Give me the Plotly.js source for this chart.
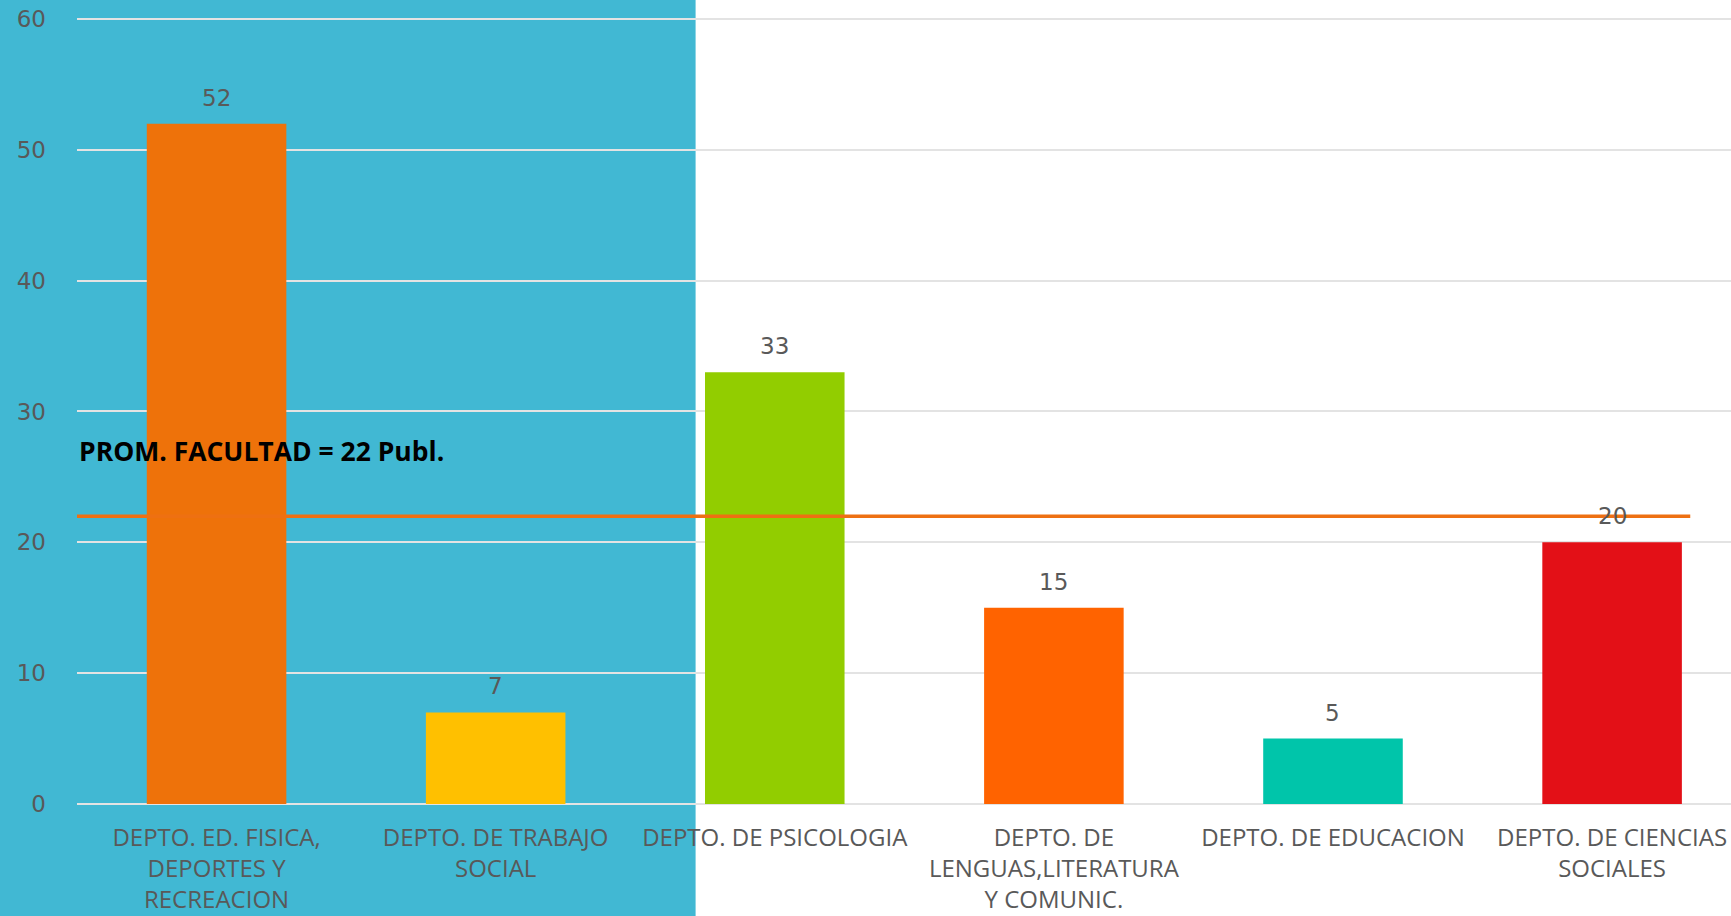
<!DOCTYPE html>
<html>
<head>
<meta charset="utf-8">
<script src="https://cdn.plot.ly/plotly-3.0.1.min.js"></script>
<style>
html,body{margin:0;padding:0;overflow:hidden;background:#fff;}
#chart{width:1731px;height:916px;}
</style>
</head>
<body>
<div id="chart"></div>
<script>
const categories = [
  "DEPTO. ED. FISICA,<br>DEPORTES Y<br>RECREACION",
  "DEPTO. DE TRABAJO<br>SOCIAL",
  "DEPTO. DE PSICOLOGIA",
  "DEPTO. DE<br>LENGUAS,LITERATURA<br>Y COMUNIC.",
  "DEPTO. DE EDUCACION",
  "DEPTO. DE CIENCIAS<br>SOCIALES"
];
const publications = [52, 7, 33, 15, 5, 20];
const barColors = ["#EE720A", "#FFC000", "#92CD00", "#FF6300", "#00C5AA", "#E31017"];
const facultyAverage = 22;
const yTicks = [0, 10, 20, 30, 40, 50, 60];

const labelFont = "DejaVu Sans, sans-serif";
const gray = "#595959";

const trace = {
  type: "bar",
  x: categories,
  y: publications,
  marker: {color: barColors},
  hoverinfo: "x+y"
};

const valueAnnotations = categories.map((c, i) => ({
  x: c, y: publications[i], xref: "x", yref: "y",
  text: String(publications[i]), showarrow: false,
  yanchor: "bottom", yshift: 11,
  font: {family: labelFont, size: 23, color: gray}
}));

const layout = {
  width: 1731, height: 916,
  margin: {l: 77, r: 0, t: 17, b: 112},
  paper_bgcolor: "#ffffff",
  plot_bgcolor: "rgba(0,0,0,0)",
  bargap: 0.5,
  showlegend: false,
  xaxis: {
    type: "category",
    range: [-0.5, 5.426],
    tickfont: {family: "Open Sans, sans-serif", size: 24, color: gray},
    showgrid: false,
    ticks: "",
    showline: false,
    zeroline: false,
    ticklabelstandoff: 17,
    fixedrange: true
  },
  yaxis: {
    range: [0, 60.15],
    tickvals: yTicks,
    tickfont: {family: labelFont, size: 23, color: gray},
    gridcolor: "#E3E3E3",
    gridwidth: 2,
    zeroline: true,
    zerolinecolor: "#E3E3E3",
    zerolinewidth: 2,
    ticks: "",
    ticklabelstandoff: 30,
    fixedrange: true
  },
  shapes: [
    {type: "rect", xref: "paper", yref: "paper",
     x0: -0.05, x1: 0.374, y0: -0.15, y1: 1.03,
     fillcolor: "#41B8D3", line: {width: 0}, layer: "below"},
    {type: "line", xref: "x", yref: "y",
     x0: -0.52, x1: 5.28, y0: facultyAverage, y1: facultyAverage,
     line: {color: "#EE7012", width: 3.5}, layer: "above"}
  ],
  annotations: valueAnnotations.concat([{
    xref: "paper", yref: "y", x: 0, y: 27.0,
    xanchor: "left", yanchor: "middle", showarrow: false,
    text: "<b>PROM. FACULTAD = " + facultyAverage + " Publ.</b>",
    font: {family: "Open Sans, sans-serif", size: 26.5, color: "#000000"}
  }])
};

Plotly.newPlot("chart", [trace], layout, {displayModeBar: false, staticPlot: true});
</script>
</body>
</html>
